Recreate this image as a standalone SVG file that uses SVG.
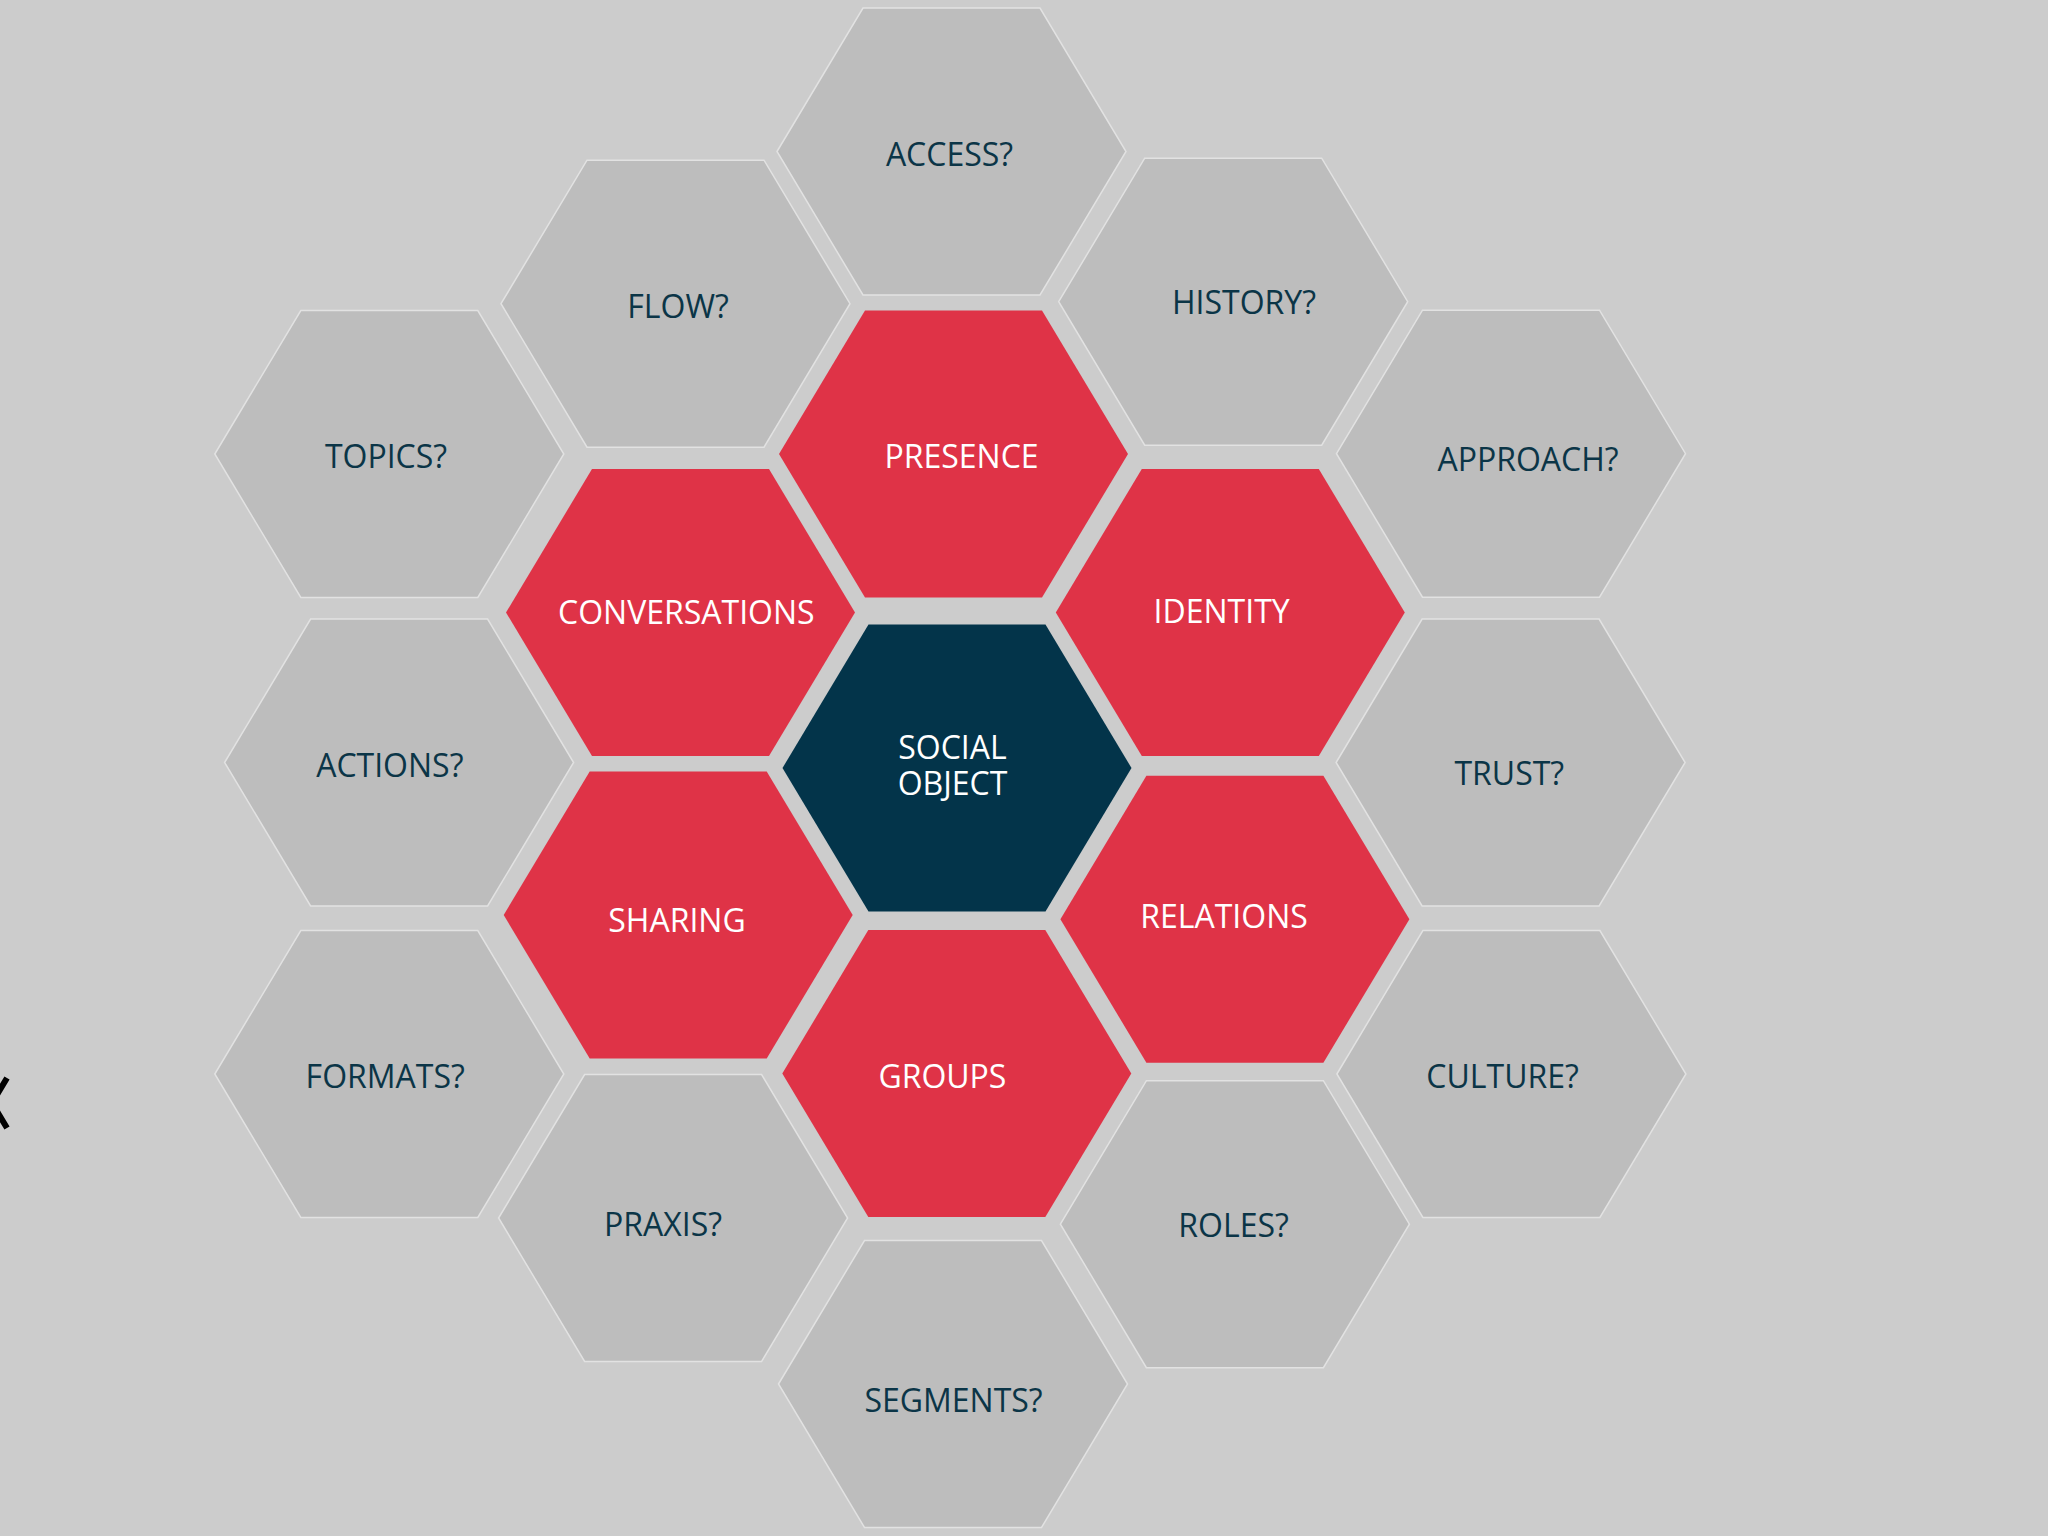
<svg xmlns="http://www.w3.org/2000/svg" xmlns:xlink="http://www.w3.org/1999/xlink" width="2048" height="1536" viewBox="0 0 2048 1536">
<style>
.bg{fill:#cccccc}
.grey{fill:#bdbdbd;stroke:#e2e2e2;stroke-width:1.5}
.red{fill:#df3347}
.navy{fill:#03344a}
text{font-family:"Open Sans","Noto Sans","Liberation Sans",sans-serif;font-size:32px;text-anchor:middle}
.dk{fill:#0b3547}
.wt{fill:#ffffff}
</style>
<defs>
<polygon id="hex" points="-174.5,0 -88.5,-143.5 88.5,-143.5 174.5,0 88.5,143.5 -88.5,143.5"/>
</defs>
<rect class="bg" x="0" y="0" width="2048" height="1536"/>
<polyline points="7,1078 -8,1103 7,1128" fill="none" stroke="#000000" stroke-width="6"/>
<g id="connectors"/>
<g id="access"><use xlink:href="#hex" class="grey" x="951.5" y="151.5"/><text class="dk" x="949.5" y="166">ACCESS?</text></g>
<g id="flow"><use xlink:href="#hex" class="grey" x="675.5" y="303.7"/><text class="dk" x="678" y="318">FLOW?</text></g>
<g id="history"><use xlink:href="#hex" class="grey" x="1233.2" y="301.7"/><text class="dk" x="1244" y="314">HISTORY?</text></g>
<g id="topics"><use xlink:href="#hex" class="grey" x="389.3" y="454"/><text class="dk" x="386" y="468">TOPICS?</text></g>
<g id="presence"><use xlink:href="#hex" class="red" x="953.5" y="454"/><text class="wt" x="961.5" y="468">PRESENCE</text></g>
<g id="approach"><use xlink:href="#hex" class="grey" x="1511" y="453.7"/><text class="dk" x="1528" y="470.5">APPROACH?</text></g>
<g id="conversations"><use xlink:href="#hex" class="red" x="680.5" y="612.5"/><text class="wt" x="686.3" y="624">CONVERSATIONS</text></g>
<g id="identity"><use xlink:href="#hex" class="red" x="1230.3" y="612.5"/><text class="wt" x="1221.6" y="622.7">IDENTITY</text></g>
<g id="actions"><use xlink:href="#hex" class="grey" x="399.1" y="762.5"/><text class="dk" x="389.8" y="776.7">ACTIONS?</text></g>
<g id="social-object"><use xlink:href="#hex" class="navy" x="957" y="768"/><text class="wt"><tspan x="952.5" y="759">SOCIAL</tspan><tspan x="952.5" y="795">OBJECT</tspan></text></g>
<g id="trust"><use xlink:href="#hex" class="grey" x="1510.6" y="762.5"/><text class="dk" x="1509.3" y="785">TRUST?</text></g>
<g id="sharing"><use xlink:href="#hex" class="red" x="678.2" y="915"/><text class="wt" x="677" y="932.3">SHARING</text></g>
<g id="relations"><use xlink:href="#hex" class="red" x="1234.9" y="919.2"/><text class="wt" x="1224" y="927.7">RELATIONS</text></g>
<g id="formats"><use xlink:href="#hex" class="grey" x="389.3" y="1074"/><text class="dk" x="385.2" y="1088.3">FORMATS?</text></g>
<g id="groups"><use xlink:href="#hex" class="red" x="956.8" y="1073.5"/><text class="wt" x="942.4" y="1088.3">GROUPS</text></g>
<g id="culture"><use xlink:href="#hex" class="grey" x="1511.4" y="1074"/><text class="dk" x="1502.6" y="1088.3">CULTURE?</text></g>
<g id="praxis"><use xlink:href="#hex" class="grey" x="673.1" y="1218"/><text class="dk" x="663" y="1236">PRAXIS?</text></g>
<g id="roles"><use xlink:href="#hex" class="grey" x="1234.9" y="1224.2"/><text class="dk" x="1233.6" y="1236.7">ROLES?</text></g>
<g id="segments"><use xlink:href="#hex" class="grey" x="953" y="1384"/><text class="dk" x="953.5" y="1412.3">SEGMENTS?</text></g>
</svg>
